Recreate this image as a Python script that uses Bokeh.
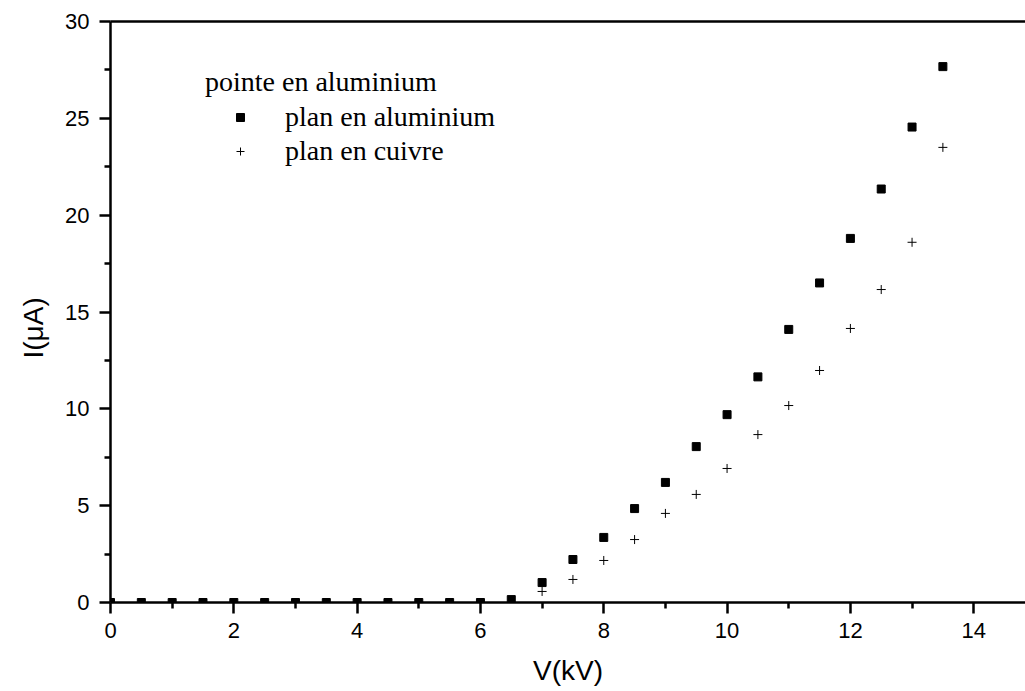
from bokeh.plotting import figure
from bokeh.models import (Range1d, LinearAxis, FixedTicker, Legend, LegendItem,
                          ColumnDataSource, Title)
from bokeh.embed import file_html
from bokeh.resources import INLINE

# ---- data ----
v_alu = [0, 0.5, 1, 1.5, 2, 2.5, 3, 3.5, 4, 4.5, 5, 5.5, 6, 6.5, 7, 7.5, 8, 8.5,
         9, 9.5, 10, 10.5, 11, 11.5, 12, 12.5, 13, 13.5]
i_alu = [0, 0, 0, 0, 0, 0, 0, 0, 0, 0, 0, 0, 0, 0.15, 1.03, 2.22, 3.36, 4.85,
         6.2, 8.05, 9.7, 11.65, 14.1, 16.5, 18.8, 21.35, 24.55, 27.67]
v_cu = [7, 7.5, 8, 8.5, 9, 9.5, 10, 10.5, 11, 11.5, 12, 12.5, 13, 13.5]
i_cu = [0.57, 1.19, 2.17, 3.25, 4.6, 5.58, 6.92, 8.67, 10.17, 11.98, 14.15,
        16.16, 18.6, 23.5]

x_ticks = [0, 2, 4, 6, 8, 10, 12, 14]
y_ticks = [0, 5, 10, 15, 20, 25, 30]

legend_title = "pointe en aluminium"
label_alu = "plan en aluminium"
label_cu = "plan en cuivre"
x_label = "V(kV)"
y_label = "I(μA)"

# ---- figure ----
p = figure(width=1025, height=691, output_backend="svg", toolbar_location=None,
           x_range=Range1d(0, 14.84), y_range=Range1d(0, 30),
           min_border_left=110, min_border_right=0, min_border_top=21,
           min_border_bottom=89, x_axis_label=x_label)
p.background_fill_color = "white"
p.border_fill_color = "white"
p.outline_line_color = None
p.grid.visible = False

sans = "Liberation Sans"
serif = "Liberation Serif"

for ax, ticks in ((p.xaxis[0], x_ticks), (p.yaxis[0], y_ticks)):
    ax.ticker = FixedTicker(ticks=ticks,
                            minor_ticks=[t + (ticks[1] - ticks[0]) / 2 for t in ticks])
    ax.axis_line_width = 2.5
    ax.axis_line_color = "black"
    ax.major_tick_line_width = 2.5
    ax.minor_tick_line_width = 2.5
    ax.major_tick_in = 0
    ax.major_tick_out = 11
    ax.minor_tick_in = 0
    ax.minor_tick_out = 6
    ax.major_label_text_font = sans
    ax.major_label_text_font_size = "22px"
    ax.major_label_text_color = "black"
    ax.axis_label_text_font = sans
    ax.axis_label_text_font_size = "28px"
    ax.axis_label_text_font_style = "normal"
    ax.axis_label_text_color = "black"

p.xaxis[0].major_label_standoff = 9
p.xaxis[0].axis_label_standoff = 14
p.yaxis[0].major_label_standoff = 10

ytitle = Title(text=y_label, align="left", offset=244, vertical_align="bottom",
               text_font=sans, text_font_size="28px", text_font_style="normal",
               text_color="black", standoff=28)
p.add_layout(ytitle, "left")

top = LinearAxis(ticker=FixedTicker(ticks=[]), axis_line_width=2.5,
                 major_label_text_font_size="0px", major_tick_out=0, minor_tick_out=0)
p.add_layout(top, "above")

src_alu = ColumnDataSource(dict(x=v_alu, y=i_alu))
src_cu = ColumnDataSource(dict(x=v_cu, y=i_cu))
r1 = p.scatter("x", "y", source=src_alu, marker="square", size=8,
               fill_color="black", line_color="black")
r2 = p.scatter("x", "y", source=src_cu, marker="cross", size=9,
               line_color="black", line_width=1)

legend = Legend(title=legend_title,
                items=[LegendItem(label=label_alu, renderers=[r1]),
                       LegendItem(label=label_cu, renderers=[r2])],
                location=(95, 434), border_line_color=None,
                background_fill_alpha=0, padding=0, margin=0, spacing=0,
                glyph_width=70, glyph_height=20, label_height=34,
                label_standoff=10, title_standoff=2)
legend.title_text_font = serif
legend.title_text_font_size = "28px"
legend.title_text_font_style = "normal"
legend.label_text_font = serif
legend.label_text_font_size = "28px"
legend.label_text_color = "black"
legend.title_text_color = "black"
p.add_layout(legend, "center")

open("out.html", "w").write(file_html(p, INLINE))
